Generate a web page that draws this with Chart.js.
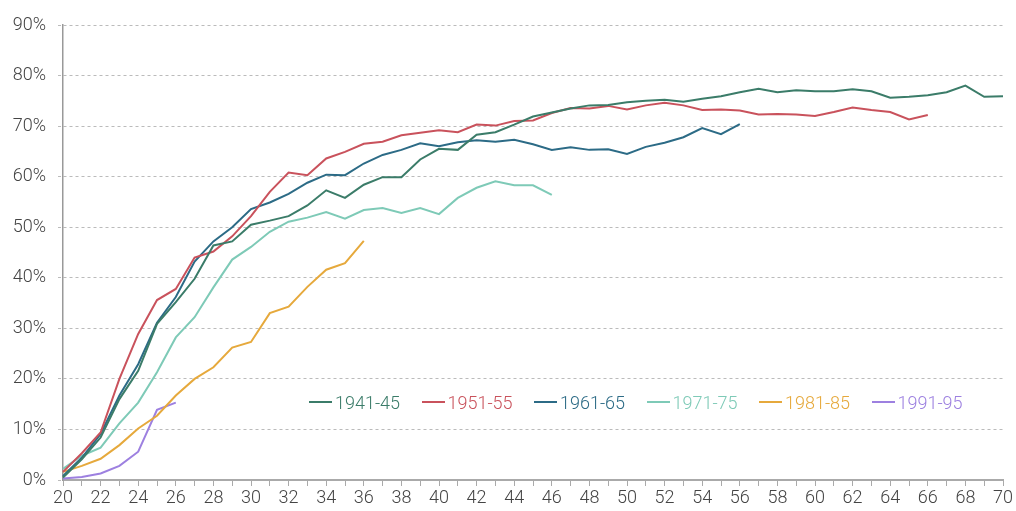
<!DOCTYPE html>
<html>
<head>
<meta charset="utf-8">
<script src="https://cdn.jsdelivr.net/npm/chart.js@4/dist/chart.umd.min.js"></script>
<style>
  html, body { margin: 0; padding: 0; background: #fff; }
  #wrap { position: relative; width: 1016px; height: 511px; }
  #legend { position: absolute; left: 309px; top: 391px; display: flex; font-family: Roboto, "Noto Sans", sans-serif; font-size: 18px; font-weight: 300; }
  .item { display: flex; align-items: center; width: 112.5px; height: 22px; white-space: nowrap; }
  .sw { width: 23px; height: 2px; margin-right: 3px; }
</style>
</head>
<body>
<div id="wrap">
  <canvas id="c" width="1016" height="511"></canvas>
  <div id="legend"></div>
</div>
<script>
const ages = ["20","21","22","23","24","25","26","27","28","29","30","31","32","33","34","35","36","37","38","39","40","41","42","43","44","45","46","47","48","49","50","51","52","53","54","55","56","57","58","59","60","61","62","63","64","65","66","67","68","69","70"];

const seriesNames = ["1941-45", "1951-55", "1961-65", "1971-75", "1981-85", "1991-95"];
const seriesColors = ["#3b7c69", "#c9525c", "#2c6b86", "#7ecab7", "#e6a93c", "#9d80e0"];

const s1941 = [0.5,4.1,8.4,16.0,21.6,30.9,35.2,39.8,46.4,47.2,
               50.5,51.3,52.2,54.3,57.3,55.8,58.4,59.9,59.9,63.4,
               65.5,65.3,68.3,68.8,70.3,71.9,72.7,73.5,74.1,74.2,
               74.7,75.0,75.2,74.8,75.4,75.9,76.7,77.4,76.7,77.1,
               76.9,76.9,77.3,76.9,75.6,75.8,76.1,76.7,78.0,75.8,75.9];
const s1951 = [1.6,5.3,9.4,20.0,28.9,35.6,37.8,44.0,45.2,48.2,
               52.2,57.0,60.8,60.3,63.6,64.9,66.5,66.9,68.2,68.7,
               69.2,68.8,70.3,70.1,71.0,71.1,72.6,73.6,73.5,74.0,
               73.3,74.1,74.6,74.1,73.2,73.3,73.1,72.3,72.4,72.3,
               72.0,72.8,73.7,73.2,72.8,71.3,72.2];
const s1961 = [0.8,4.4,9.1,16.7,22.9,31.1,36.2,43.2,47.2,50.0,
               53.6,54.9,56.6,58.8,60.4,60.3,62.6,64.3,65.3,66.6,
               66.0,66.8,67.2,66.9,67.3,66.4,65.3,65.8,65.3,65.4,
               64.5,65.9,66.7,67.8,69.6,68.4,70.4];
const s1971 = [2.2,4.8,6.4,11.2,15.3,21.3,28.2,32.2,38.1,43.6,
               46.1,49.1,51.1,51.9,53.0,51.7,53.4,53.8,52.8,53.8,
               52.6,55.8,57.8,59.1,58.3,58.3,56.4];
const s1981 = [1.6,2.8,4.2,6.9,10.2,12.7,16.7,20.0,22.3,26.2,
               27.3,33.0,34.3,38.2,41.6,42.9,47.3];
const s1991 = [0.3,0.6,1.3,2.8,5.6,13.9,15.3];

const yTicks = [0,10,20,30,40,50,60,70,80,90];

const allSeries = [s1941, s1951, s1961, s1971, s1981, s1991];

const datasets = allSeries.map((d, i) => ({
  label: seriesNames[i],
  data: d,
  borderColor: seriesColors[i],
  backgroundColor: seriesColors[i],
  borderWidth: 2,
  pointRadius: 0,
  tension: 0,
  fill: false
}));

const tickFont = { family: "Roboto, 'Noto Sans', sans-serif", size: 18, weight: 300 };

new Chart(document.getElementById('c'), {
  type: 'line',
  data: { labels: ages, datasets: datasets },
  options: {
    responsive: false,
    animation: false,
    events: [],
    layout: { padding: { top: 25, right: 13, left: 0, bottom: 0 } },
    plugins: { legend: { display: false }, tooltip: { enabled: false } },
    scales: {
      x: {
        type: 'category',
        offset: false,
        ticks: {
          autoSkip: false,
          maxRotation: 0,
          color: '#444',
          font: tickFont,
          padding: 2,
          callback: function(v, i) { const l = ages[i]; return (parseInt(l) % 2 === 0) ? l : ''; }
        },
        grid: { display: true, drawOnChartArea: false, drawTicks: true, tickLength: 6, tickColor: '#aaa', tickWidth: 1, offset: false },
        border: { display: true, color: '#aaa', width: 2 },
        afterFit: s => { s.height = 31; }
      },
      y: {
        min: 0, max: 90,
        afterBuildTicks: s => { s.ticks = yTicks.map(v => ({ value: v })); },
        ticks: { color: '#444', font: tickFont, padding: 12, callback: v => v + '%' },
        grid: { color: '#bbb', lineWidth: 1, drawTicks: true, tickLength: 5, tickColor: '#bbb', tickBorderDash: [3, 3] },
        border: { display: true, color: '#999', width: 1.5, dash: [3, 3] },
        afterFit: s => { s.width = 63; }
      }
    }
  }
});

const lg = document.getElementById('legend');
seriesNames.forEach((n, i) => {
  const it = document.createElement('div');
  it.className = 'item';
  const sw = document.createElement('span');
  sw.className = 'sw';
  sw.style.background = seriesColors[i];
  const tx = document.createElement('span');
  tx.textContent = n;
  tx.style.color = seriesColors[i];
  it.appendChild(sw); it.appendChild(tx);
  lg.appendChild(it);
});
</script>
</body>
</html>
